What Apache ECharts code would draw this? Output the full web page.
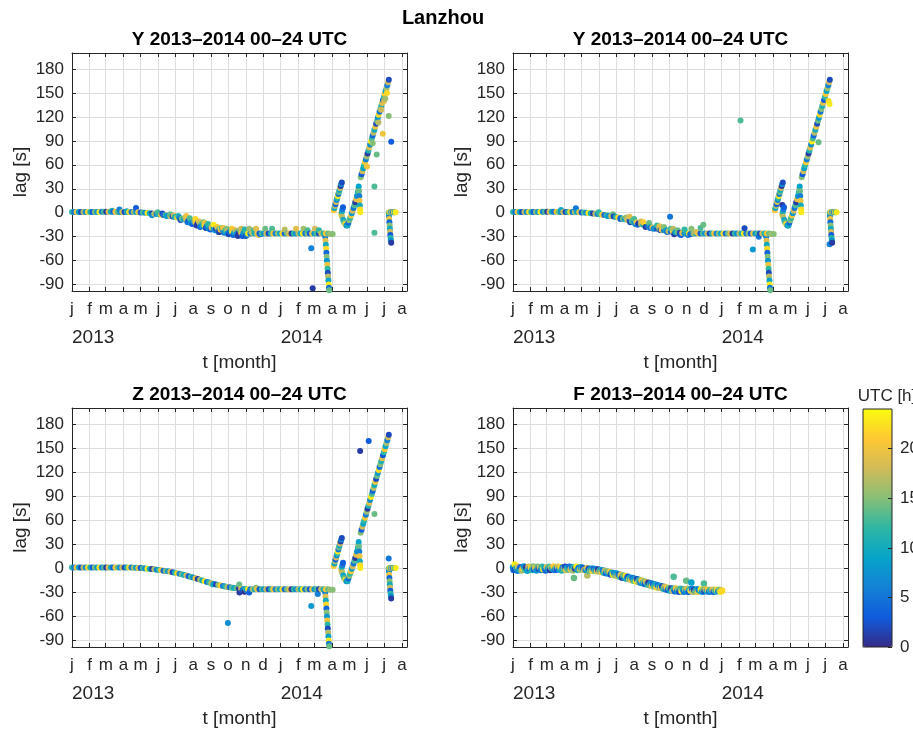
<!DOCTYPE html>
<html>
<head>
<meta charset="utf-8">
<title>Lanzhou</title>
<script src="https://cdn.jsdelivr.net/npm/echarts@6/dist/echarts.min.js"></script>
<style>
  html, body { margin: 0; padding: 0; background: #fff; }
  #chart { width: 913px; height: 730px; }
</style>
</head>
<body>
<div id="chart"></div>
<script>
// x = days since 2013-01-01, y = lag [s], 3rd value = UTC hour of the record
const monthStarts = [0, 31, 59, 90, 120, 151, 181, 212, 243, 273, 304, 334, 365, 396, 424, 455, 485, 516, 546, 577]
const monthLabels = ['j', 'f', 'm', 'a', 'm', 'j', 'j', 'a', 's', 'o', 'n', 'd', 'j', 'f', 'm', 'a', 'm', 'j', 'j', 'a']
const yearStarts = [0, 365]
const yearLabels = ['2013', '2014']
const lagTicks = [-90, -60, -30, 0, 30, 60, 90, 120, 150, 180]
const hourTicks = [0, 5, 10, 15, 20]
const panelTitles = ['Y 2013–2014 00–24 UTC', 'Y 2013–2014 00–24 UTC', 'Z 2013–2014 00–24 UTC', 'F 2013–2014 00–24 UTC']

// clock drift seen on the Y and Z traces, Jan 2013 - Mar 2014
const driftCore = [
  [0, 1, 12], [4, 1, 5], [8, 1, 20], [12, 1, 9], [16, 1, 2], [20, 1, 17], [24, 1, 7], [28, 1, 22],
  [32, 1, 11], [36, 1, 3], [40, 1, 15], [44, 1, 8], [48, 1, 23], [52, 1.2, 6], [56, 1.2, 13], [60, 1.2, 1],
  [64, 1.2, 19], [68, 1.2, 10], [72, 1.2, 4], [76, 1.2, 21], [80, 1, 14], [84, 1, 7], [88, 1, 18], [92, 1, 2],
  [96, 1, 11], [100, 1, 22], [104, 1, 5], [108, 0.8, 16], [112, 0.8, 9], [116, 0.6, 20], [120, 0.4, 3], [124, 0.2, 13],
  [128, 0, 7], [132, -0.3, 23], [136, -0.6, 10], [140, -0.9, 1], [144, -1.2, 17], [148, -1.6, 6], [152, -2, 12], [156, -2.4, 21],
  [160, -2.8, 4], [164, -3.2, 15], [168, -3.7, 8], [172, -4.2, 19], [176, -4.7, 2], [180, -5.3, 11], [184, -6, 22], [188, -6.7, 6],
  [192, -7.4, 14], [196, -8.2, 9], [200, -9, 18], [204, -9.8, 3], [208, -10.6, 13], [212, -11.4, 7], [216, -12.3, 20], [220, -13.2, 1],
  [224, -14.1, 16], [228, -15, 10], [232, -15.9, 23], [236, -16.8, 5], [240, -17.7, 12], [244, -18.5, 19], [248, -19.3, 8], [252, -20, 2],
  [256, -20.7, 15], [260, -21.4, 21], [264, -22, 6], [268, -22.6, 11], [272, -23.1, 17], [276, -23.6, 4], [280, -24, 22], [284, -24.4, 9],
  [288, -24.8, 14], [292, -25.1, 1], [296, -25.4, 19], [300, -25.6, 7], [304, -25.8, 12], [308, -26, 23], [312, -26, 5], [316, -26, 16],
  [320, -26, 10], [324, -26, 20], [328, -26, 3], [332, -26, 13], [336, -26, 8], [340, -26, 18], [344, -26, 2], [348, -26, 11],
  [352, -26, 21], [356, -26, 6], [360, -26, 15], [364, -26, 9], [368, -26, 22], [372, -26, 4], [376, -26, 14], [380, -26, 19],
  [384, -26, 1], [388, -26, 12], [392, -26, 7], [396, -26, 17], [400, -26, 10], [404, -26, 23], [408, -26, 5], [412, -26, 15],
  [416, -26, 3], [420, -26, 20], [424, -26, 8], [428, -26, 13], [432, -26, 2], [436, -26, 18], [440, -26, 11], [444, -26, 21],
  [448, -26, 14], [452, -26.5, 16], [456, -26.5, 15]
]

// resets and re-synchronisations, Mar - Jul 2014
const springSegments = [
  [443, -30, 6], [443.5, -35, 19], [444, -40, 10], [444.5, -45, 22], [445, -50, 4], [445.5, -55, 15], [446, -60, 8], [446.5, -65, 20],
  [447, -70, 12], [447.5, -75, 2], [448, -80, 17], [448.5, -85, 9], [449, -90, 23], [449.5, -94, 5], [450, -97, 14],
  [458, 3, 21], [459, 6, 9], [460, 8.5, 16], [461, 11, 3], [462, 13.5, 19], [463, 16, 7], [464, 18.5, 12], [465, 21, 23],
  [466, 23.5, 5], [467, 26, 14], [468, 28.5, 10], [469, 31, 18], [470, 33.5, 1], [471, 36, 8], [472, 38, 2],
  [471, -2, 20], [472, 1, 11], [473, 4, 6], [474, 7, 3], [472.5, -5, 17], [474.5, -9, 9], [476, -12, 13], [478, -14, 22], [480, -16, 7],
  [482, -16, 10], [483.5, -12.5, 4], [485, -9.5, 15], [486.5, -6.5, 12], [488, -3.5, 21], [489.5, -0.5, 8], [491, 2.5, 18], [492.5, 6, 5],
  [494, 9.5, 13], [495.5, 13, 1], [497, 17, 19], [498.5, 21, 7], [500, 25.5, 11], [501, 29.5, 16], [501.5, 33, 9],
  [502, 27, 14], [502.5, 21, 6], [503, 15, 20], [503.5, 9, 10], [504, 4, 22], [504.3, 0.5, 23],
  [505, 44.5, 15], [506.5, 48.2, 3], [508, 52, 18], [509.5, 55.7, 9], [511, 59.4, 12], [512.5, 63.1, 21], [514, 66.8, 6], [515.5, 70.5, 16],
  [517, 74.3, 1], [518.5, 78, 11], [520, 81.7, 19], [521.5, 85.4, 7], [523, 89.1, 23], [524.5, 92.8, 13], [526, 96.6, 4], [527.5, 100.3, 17],
  [529, 104, 10], [530.5, 107.7, 20], [532, 111.4, 2], [533.5, 115.1, 14], [535, 118.9, 8], [536.5, 122.6, 22], [538, 126.3, 5], [539.5, 130, 15],
  [541, 133.7, 11], [542.5, 137.4, 19], [544, 141.2, 3], [545.5, 144.9, 12], [547, 148.6, 21], [548.5, 152.3, 9], [550, 156, 16], [551.5, 159.7, 6],
  [553, 163.5, 18], [554.2, 166.5, 2],
  [554, 0, 13], [554.4, -4, 7], [554.8, -8, 20], [555.2, -12, 4], [555.6, -16, 15], [556, -20, 10], [556.4, -24, 18], [556.8, -28, 3],
  [557.3, -31.5, 12], [557.8, -34.5, 8], [558.3, -37.5, 1],
  [555.5, 0.5, 21], [557, 0.5, 16], [558.5, 0.5, 9], [560, 0.5, 19], [561.5, 0.5, 5], [563, 0.5, 22], [564.5, 0.5, 11], [566, 0.5, 23]
]

const yScatterA = [
  [83, 4, 6], [112, 6, 3], [96, 2, 10], [70, 2.5, 12], [140, -3, 7], [150, 0.5, 13], [158, -1, 2], [165, -4, 9],
  [172, -2, 14], [178, -3.5, 18], [186, -4, 11], [190, -9, 2], [198, -6, 16], [202, -12, 5], [206, -7, 13], [210, -14, 3],
  [214, -9, 15], [218, -16, 1], [222, -11, 19], [226, -17, 6], [230, -12, 14], [234, -19, 2], [238, -14, 12], [242, -21, 4],
  [246, -16, 17], [250, -22, 8], [254, -18, 21], [258, -24, 1], [262, -19, 13], [266, -25, 6], [270, -20, 15], [274, -27, 2],
  [278, -21, 12], [282, -28, 4], [286, -22, 18], [290, -29, 1], [294, -22, 14], [298, -29, 3], [302, -21, 11], [306, -28, 6],
  [310, -20, 16], [318, -22, 13], [326, -28, 20], [338, -20, 14], [350, -20, 13], [372, -21, 17], [392, -20, 19], [405, -20, 16],
  [412, -22, 13], [425, -20, 18], [432, -22, 12], [418.5, -44.5, 6], [421, -94.5, 1],
  [200, -4, 20], [208, -13, 9], [216, -8, 22], [224, -18, 3], [232, -13, 20], [240, -20, 9], [248, -15, 23], [256, -24, 5],
  [264, -19, 20], [272, -26, 8], [280, -20, 21], [288, -27, 6], [296, -20, 18], [304, -29, 2], [314, -24, 17], [322, -20, 19], [330, -27, 4],
  [516, 58, 20], [526, 87, 15], [529, 33, 13], [529, -25, 13], [533, 73, 14], [536, 113, 17], [541, 129, 18], [543.7, 99, 20],
  [546, 140, 19], [548, 143, 16], [551, 150, 22], [554, 121, 15], [558.4, 89, 3]
]

const yScatterB = [
  [84, 3.5, 9], [110, 5.5, 5], [150, 0.5, 12], [165, -4, 9], [175, -2, 14], [188, -8, 3], [198, -6, 16], [205, -12, 2],
  [212, -8, 13], [218, -15, 4], [224, -11, 18], [232, -18, 1], [238, -13, 14], [246, -20, 6], [252, -16, 12], [258, -22, 2],
  [264, -18, 15], [270, -24, 4], [274.7, -5, 5], [276, -20, 13], [282, -27, 1], [288, -22, 14], [294, -28, 3], [300, -21, 12],
  [306, -28, 6], [312, -20, 15], [328, -19, 13], [333, -15, 14], [398, 115.5, 13], [405, -19.5, 2], [419.5, -46, 8], [430, -30, 5],
  [204, -5, 19], [214, -14, 7], [228, -12, 21], [240, -19, 5], [256, -17, 19], [268, -22, 9], [280, -20, 17], [292, -27, 2],
  [298, -24, 20], [310, -27, 3], [320, -24, 18],
  [471, 9.6, 1], [534.5, 88.4, 14], [553.7, 136, 23], [553.7, -39.5, 6], [552, 140, 22]
]

const zScatter = [
  [246, -20, 13], [272.7, -68, 7], [280, -24, 13], [292.6, -20, 14], [293, -30, 1], [298, -28, 2], [302, -29, 0], [306, -28, 6],
  [310, -30, 3], [322, -24, 15], [418.5, -46.8, 8], [430, -32, 6], [504, 146.3, 1], [519, 159, 3], [529, 67.7, 14], [554, 12.5, 5]
]

const fPoints = [
  [0, 1.5, 8], [1, -2, 4], [3, 5, 23], [4, -1.5, 2], [6, 0.5, 12], [8, -3, 6], [9, 2, 19], [11, -1, 10],
  [13, 1.5, 3], [15, -2.5, 16], [17, 0, 21], [19, 2.5, 7], [21, -1.5, 13], [23, 1, 1], [25, -3, 9], [27, 2, 18],
  [29, -0.5, 5], [31, 1, 22], [33, -2, 11], [35, 2.5, 15], [37, -1, 3], [39, 0.5, 20], [41, -2.5, 8], [43, 2, 14],
  [45, -0.5, 2], [47, 1.5, 17], [49, -2, 6], [51, 2, 12], [53, -1, 23], [55, 0.5, 9], [57, -2.5, 4], [59, 1.5, 19],
  [61, -1, 7], [63, 2, 13], [65, -2, 1], [67, 1, 16], [69, -0.5, 10], [71, 2.5, 21], [73, -2, 5], [75, 0.5, 14],
  [77, -1.5, 3], [79, 2, 18], [81, -1, 8], [83, 1.5, 22], [85, -2.5, 11], [87, 1, 6], [89, -0.5, 15], [91, 2, 2],
  [93, -2, 19], [95, 0.5, 9], [97, -1.5, 13], [99, 2, 4], [101, -1, 20], [103, 1, 7], [105, -2.5, 16], [107, 1.5, 12],
  [109, -0.5, 1], [111, 2, 23], [113, -2, 10], [115, 0.5, 5], [117, -1.5, 17], [119, 1.5, 8], [121, -1, 14], [123, 0.5, 3],
  [125, -2, 21], [127, -2, 6], [129, 0.5, 18], [131, -2.5, 11], [133, -0.5, 2], [135, -2.5, 15], [137, -0.5, 9], [139, -3, 22],
  [141, -0.5, 4], [143, -3, 13], [145, -1, 7], [147, -3.5, 19], [149, -1.5, 1], [151, -4, 16], [153, -2, 10], [155, -4.5, 21],
  [157, -2.5, 5], [159, -5.5, 12], [161, -3, 17], [163, -6, 3], [165, -4, 14], [167, -6.5, 8], [169, -4.5, 20], [171, -7.5, 2],
  [173, -5.5, 11], [175, -8, 23], [177, -6, 6], [179, -9, 15], [181, -6.5, 9], [183, -9.5, 18], [185, -7.5, 4], [187, -10.5, 12],
  [189, -8, 19], [191, -11.5, 1], [193, -9, 14], [195, -12, 7], [197, -9.5, 22], [199, -13, 10], [201, -10.5, 3], [203, -13.5, 16],
  [205, -11.5, 11], [207, -14.5, 20], [209, -12, 5], [211, -15.5, 13], [213, -13, 8], [215, -16, 23], [217, -13.5, 2], [219, -17, 17],
  [221, -14.5, 12], [223, -18, 6], [225, -15, 21], [227, -18.5, 9], [229, -16, 15], [231, -19.5, 3], [233, -17, 18], [235, -20, 11],
  [237, -18, 1], [239, -21, 14], [241, -18.5, 7], [243, -22, 20], [245, -19.5, 4], [247, -22.5, 13], [249, -20, 10], [251, -23.5, 22],
  [253, -21, 5], [255, -24, 16], [257, -22, 8], [259, -24.5, 19], [261, -22.5, 2], [263, -25.5, 12], [265, -23, 17], [267, -26, 6],
  [269, -24, 21], [271, -27, 3], [273, -24.5, 14], [275, -27.5, 9], [277, -25, 1], [279, -28, 18], [281, -25.5, 11], [283, -28.5, 4],
  [285, -25, 20], [287, -28.5, 7], [289, -26, 15], [291, -29, 2], [293, -25.5, 13], [295, -28.5, 23], [297, -26, 10], [299, -29, 5],
  [301, -26, 16], [303, -28.5, 8], [305, -25.5, 19], [307, -29, 3], [309, -26, 12], [311, -28, 22], [313, -25.5, 6], [315, -29, 17],
  [317, -26.5, 1], [319, -28.5, 14], [321, -26, 9], [323, -29, 20], [325, -26.5, 4], [327, -28, 11], [329, -26, 23], [331, -29, 7],
  [333, -26.5, 15], [335, -28.5, 2], [337, -26, 18], [339, -28.5, 10], [341, -26.5, 21], [343, -29, 5], [345, -27, 13], [347, -28.5, 8],
  [349, -26.5, 19], [351, -29, 3], [353, -27, 16], [355, -28.5, 12], [357, -26.5, 22], [359, -28.5, 6], [361, -27, 14], [363, -29, 23],
  [365, -27.5, 20], [366, -28, 22],
  [106.6, -12, 14], [130, -9, 17], [281, -10.4, 13], [303, -15.4, 14], [312, -17.5, 9], [334, -18.8, 13]
]

const parula = ['#352a87', '#0f5cdd', '#1481d6', '#06a4ca', '#2eb7a4', '#87bf77', '#d1bb59', '#fec832', '#f9fb0e']

const byDay = (a, b) => a[0] - b[0]
const panelData = [
  driftCore.concat(springSegments, yScatterA).sort(byDay),
  driftCore.concat(springSegments, yScatterB).sort(byDay),
  driftCore.concat(springSegments, zScatter).sort(byDay),
  fPoints.slice().sort(byDay)
]

const boxes = [
  { left: 72, top: 53, height: 238 },
  { left: 513, top: 53, height: 238 },
  { left: 72, top: 408, height: 239 },
  { left: 513, top: 408, height: 239 }
]
const plotWidth = 335
const font = "'Liberation Sans', Arial, Helvetica, sans-serif"
const ink = '#262626'
const gridGray = '#dedede'

const grids = []
const xAxes = []
const yAxes = []
const series = []
const titles = [{
  text: 'Lanzhou', left: 443, top: 8, textAlign: 'center', padding: 0,
  textStyle: { fontFamily: font, fontSize: 20, fontWeight: 'bold', color: '#000' }
}, {
  text: 'UTC [h]', left: 887, top: 388, textAlign: 'center', padding: 0,
  textStyle: { fontFamily: font, fontSize: 17, fontWeight: 'normal', color: ink }
}]

const line = { show: true, onZero: false, lineStyle: { color: ink, width: 1 } }
const labelStyle = { fontFamily: font, color: ink }

boxes.forEach((b, i) => {
  grids.push({ left: b.left, top: b.top, width: plotWidth, height: b.height, outerBoundsMode: 'none' })
  titles.push({
    text: panelTitles[i], left: b.left + plotWidth / 2, top: b.top - 23, textAlign: 'center', padding: 0,
    textStyle: { fontFamily: font, fontSize: 19, fontWeight: 'bold', color: '#000' }
  })

  const xi = xAxes.length
  xAxes.push({
    gridIndex: i, type: 'value', position: 'bottom', min: 0, max: 586,
    name: 't [month]', nameLocation: 'middle', nameGap: 62,
    nameTextStyle: { fontFamily: font, fontSize: 19, color: ink },
    axisLine: line,
    axisTick: { inside: true, length: 4, customValues: monthStarts, lineStyle: { color: ink } },
    axisLabel: {
      ...labelStyle, fontSize: 17, margin: 10, customValues: monthStarts,
      formatter: v => monthLabels[monthStarts.indexOf(v)]
    },
    splitLine: { show: true, lineStyle: { color: gridGray, width: 1 } }
  })
  xAxes.push({
    gridIndex: i, type: 'value', position: 'bottom', min: 0, max: 586,
    axisLine: { show: false, onZero: false }, axisTick: { show: false }, splitLine: { show: false },
    axisLabel: {
      ...labelStyle, fontSize: 19, margin: 37, align: 'left', customValues: yearStarts,
      formatter: v => yearLabels[yearStarts.indexOf(v)]
    }
  })
  xAxes.push({
    gridIndex: i, type: 'value', position: 'top', min: 0, max: 586,
    axisLine: line,
    axisTick: { inside: true, length: 4, customValues: monthStarts, lineStyle: { color: ink } },
    axisLabel: { show: false }, splitLine: { show: false }
  })

  const yi = yAxes.length
  yAxes.push({
    gridIndex: i, type: 'value', position: 'left', min: -98, max: 200,
    name: 'lag [s]', nameLocation: 'middle', nameGap: 42,
    nameTextStyle: { fontFamily: font, fontSize: 19, color: ink },
    axisLine: line,
    axisTick: { inside: true, length: 4, customValues: lagTicks, lineStyle: { color: ink } },
    axisLabel: { ...labelStyle, fontSize: 17, margin: 8, customValues: lagTicks },
    splitLine: { show: true, lineStyle: { color: gridGray, width: 1 } }
  })
  yAxes.push({
    gridIndex: i, type: 'value', position: 'right', min: -98, max: 200,
    axisLine: line,
    axisTick: { inside: true, length: 4, customValues: lagTicks, lineStyle: { color: ink } },
    axisLabel: { show: false }, splitLine: { show: false }
  })

  series.push({
    type: 'scatter', xAxisIndex: xi, yAxisIndex: yi,
    data: panelData[i], symbolSize: i === 3 ? 6.5 : 6, clip: true,
    itemStyle: { opacity: 1 }
  })
})

// colour bar frame and hour ticks
grids.push({
  left: 863, top: 409, width: 29, height: 238, outerBoundsMode: 'none',
  show: true, borderColor: ink, borderWidth: 1, backgroundColor: 'rgba(0,0,0,0)', z: 10
})
xAxes.push({ gridIndex: 4, type: 'value', min: 0, max: 1, show: false })
yAxes.push({
  gridIndex: 4, type: 'value', position: 'right', min: 0, max: 24, z: 10,
  axisLine: { show: false, onZero: false },
  axisTick: { inside: true, length: 4, customValues: hourTicks, lineStyle: { color: ink } },
  axisLabel: { ...labelStyle, fontSize: 17, margin: 8, customValues: hourTicks },
  splitLine: { show: false }
})

const chart = echarts.init(document.getElementById('chart'), null, { renderer: 'canvas' })
chart.setOption({
  backgroundColor: '#fff',
  animation: false,
  textStyle: { fontFamily: font },
  title: titles,
  grid: grids,
  xAxis: xAxes,
  yAxis: yAxes,
  visualMap: {
    type: 'continuous', min: 0, max: 24, dimension: 2, seriesIndex: [0, 1, 2, 3],
    inRange: { color: parula },
    calculable: false, hoverLink: false, text: null,
    left: 863, top: 409, itemWidth: 29, itemHeight: 238, padding: 0
  },
  series
})
</script>
</body>
</html>
